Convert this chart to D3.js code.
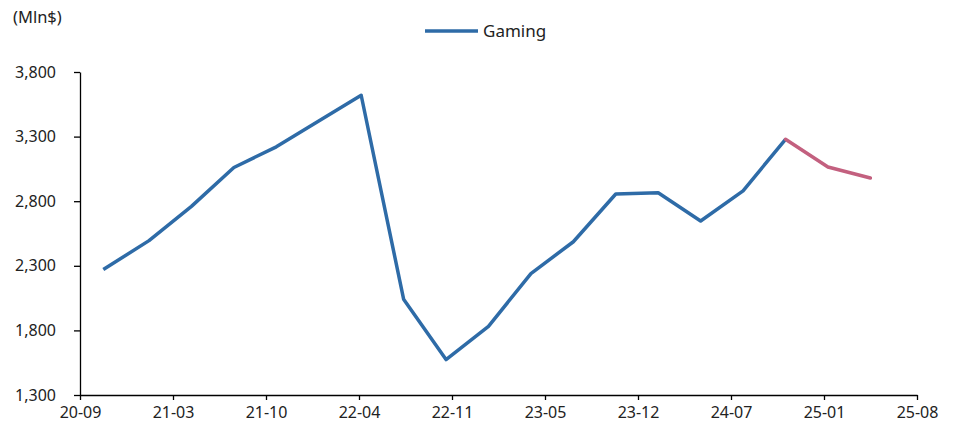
<!DOCTYPE html>
<html>
<head>
<meta charset="utf-8">
<script src="https://cdn.jsdelivr.net/npm/d3@7"></script>
<style>
  body { margin: 0; background: #fff; }
  text { font-family: "Noto Sans", "DejaVu Sans", sans-serif; fill: #222; }
</style>
</head>
<body>
<svg id="chart" width="957" height="430"></svg>
<script>
// quarter-end dates and gaming revenue (Mln$)
const dates = ['2020-10-25', '2021-01-31', '2021-05-02', '2021-08-01', '2021-10-31',
               '2022-01-30', '2022-05-01', '2022-07-31', '2022-10-30', '2023-01-29',
               '2023-04-30', '2023-07-30', '2023-10-29', '2024-01-28', '2024-04-28',
               '2024-07-28', '2024-10-27', '2025-01-26', '2025-04-27'];
const gaming = [2271, 2495, 2760, 3061, 3221, 3420, 3620, 2042, 1574, 1831,
                2240, 2486, 2856, 2865, 2647, 2880, 3279, 3065, 2980];
// index where the estimate part starts
const forecastFrom = 16;

const xTickLabels = ['20-09', '21-03', '21-10', '22-04', '22-11', '23-05', '23-12', '24-07', '25-01', '25-08'];
const yTicks = [1300, 1800, 2300, 2800, 3300, 3800];

const blue = '#2e6ba7';
const pink = '#c3607f';

const parse = d3.timeParse('%Y-%m-%d');
const data = dates.map((d, i) => ({ date: parse(d), value: gaming[i] }));

const svg = d3.select('#chart');
const margin = { left: 80, right: 40, top: 72, bottom: 35 };
const W = 957, H = 430;

const start = parse('2020-09-05'), end = parse('2025-08-05');
const x = d3.scaleTime().domain([start, end]).range([margin.left, W - margin.right]);
const y = d3.scaleLinear().domain([1300, 3800]).range([H - margin.bottom, margin.top]);

// evenly spaced date ticks across the domain
const step = (end - start) / (xTickLabels.length - 1);
const xTickVals = xTickLabels.map((l, i) => new Date(+start + i * step));

const xAxis = svg.append('g')
    .attr('transform', `translate(0,${H - margin.bottom})`)
    .call(d3.axisBottom(x).tickValues(xTickVals)
        .tickFormat((d, i) => xTickLabels[i]).tickSize(5).tickSizeOuter(0));
xAxis.select('.domain').attr('stroke', '#000').attr('stroke-width', 1.3);
xAxis.selectAll('.tick line').attr('stroke', '#000').attr('stroke-width', 1.3);
xAxis.selectAll('.tick text')
    .attr('dy', '0.95em')
    .style('font-size', '16px').style('font-family', '"Noto Sans", sans-serif').attr('fill', '#222');

const yAxis = svg.append('g')
    .attr('transform', `translate(${margin.left},0)`)
    .call(d3.axisLeft(y).tickValues(yTicks).tickFormat(d3.format(',')).tickSize(6).tickSizeOuter(0));
yAxis.select('.domain').attr('stroke', '#000').attr('stroke-width', 1.3);
yAxis.selectAll('.tick line').attr('stroke', '#000').attr('stroke-width', 1.3);
yAxis.selectAll('.tick text')
    .attr('x', -24)
    .style('font-size', '16px').style('font-family', '"Noto Sans", sans-serif').attr('fill', '#222');

const line = d3.line().x(d => x(d.date)).y(d => y(d.value));

svg.append('path')
    .datum(data.slice(0, forecastFrom + 1))
    .attr('fill', 'none')
    .attr('stroke', blue)
    .attr('stroke-width', 3.5)
    .attr('stroke-linejoin', 'round')
    .attr('d', line);

svg.append('path')
    .datum(data.slice(forecastFrom))
    .attr('fill', 'none')
    .attr('stroke', pink)
    .attr('stroke-width', 3.5)
    .attr('stroke-linejoin', 'round')
    .attr('stroke-linecap', 'round')
    .attr('d', line);

// unit label
svg.append('text')
    .attr('x', 13).attr('y', 23)
    .style('font-size', '16.5px')
    .text('(Mln$)');

// legend
svg.append('line')
    .attr('x1', 425).attr('x2', 478).attr('y1', 31).attr('y2', 31)
    .attr('stroke', blue).attr('stroke-width', 3.5);
svg.append('text')
    .attr('x', 483).attr('y', 37)
    .style('font-size', '17px')
    .text('Gaming');
</script>
</body>
</html>
